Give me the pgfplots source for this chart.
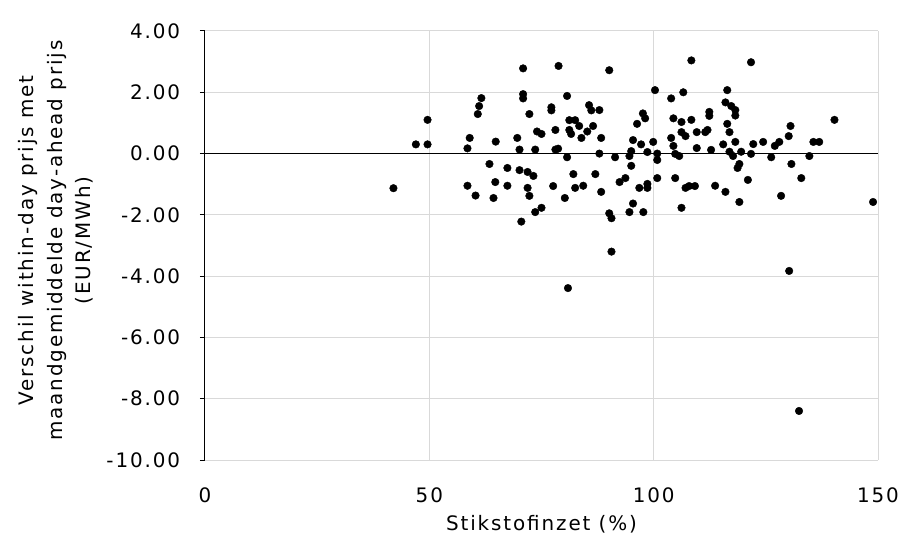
\documentclass[border=0pt]{standalone}
\usepackage{pgfplots}
\pgfplotsset{compat=1.18}
\usepackage{fontspec}
\setmainfont[LetterSpace=9.5]{DejaVu Sans}
\begin{document}
\fontsize{20}{24}\selectfont
\begin{tikzpicture}
\begin{axis}[
  name=ax,
  scale only axis,
  width=673bp, height=429bp,
  xmin=0, xmax=150, ymin=-10, ymax=4,
  xtick={0,50,100,150}, ytick={-10,-8,...,4},
  yticklabel={\pgfmathprintnumber[fixed,fixed zerofill,precision=2]{\tick}},
  /pgf/number format/assume math mode=true,
  axis lines*=left,
  x axis line style={draw=none},
  y axis line style={black, line width=1pt},
  xtick style={draw=none},
  ytick style={black, line width=1pt},
  tick align=outside,
  major tick length=5bp,
  grid=major,
  major grid style={gray!30, line width=1pt},
  extra y ticks={0},
  extra y tick labels={},
  extra y tick style={grid=major, major grid style={black, line width=1pt}, major tick length=0pt},
  ticklabel style={font=\fontsize{20}{24}\selectfont},
  yticklabel style={xshift=-13bp},
  xticklabel style={yshift=-16bp},
  xlabel={Stikstofinzet (\%)},
  ylabel={Verschil within-day prijs met\\maandgemiddelde day-ahead prijs\\(EUR/MWh)},
  ylabel style={at={([shift={(-149bp,5bp)}]axis description cs:0,0.5)}, anchor=center,
    align=center, font=\fontsize{20}{28.5}\selectfont},
  xlabel style={at={([shift={(0bp,-64bp)}]axis description cs:0.5,0)}, anchor=center,
    font=\fontsize{20}{24}\selectfont},
  clip=false,
]
\addplot[only marks, mark=*, mark size=3.8bp, black] coordinates {
(47.0,0.30) (42.0,-1.13) (49.6,0.30) (49.6,1.10) (58.5,0.17) (59.0,0.51)
(60.8,1.29) (61.1,1.55) (61.6,1.81) (64.8,0.39) (69.6,0.51) (70.1,0.13)
(70.9,2.78) (70.9,1.94) (70.9,1.80) (72.3,1.29) (73.6,0.13) (74.0,0.72)
(75.0,0.64) (77.2,1.51) (77.2,1.41) (78.1,0.77) (78.8,2.86) (78.1,0.13)
(78.7,0.16) (63.4,-0.34) (67.4,-0.47) (70.1,-0.54) (71.9,-0.60) (73.2,-0.73)
(58.5,-1.05) (60.3,-1.37) (64.7,-0.93) (67.4,-1.05) (64.3,-1.45) (71.9,-1.12)
(72.3,-1.38) (77.6,-1.06) (75.0,-1.77) (73.6,-1.91) (70.5,-2.22)
(90.1,2.72) (108.4,3.04) (100.3,2.07) (106.6,2.00) (80.7,1.88) (103.9,1.80)
(85.6,1.58) (86.1,1.41) (87.9,1.42) (97.6,1.31) (98.1,1.15) (96.3,0.97)
(104.4,1.15) (106.2,1.03) (108.4,1.10) (81.2,1.09) (82.5,1.09) (83.4,0.90)
(86.5,0.90) (81.2,0.77) (81.6,0.64) (85.2,0.72) (83.9,0.51) (88.3,0.51)
(95.4,0.44) (97.2,0.30) (99.9,0.38) (106.2,0.70) (107.1,0.57) (109.6,0.70)
(103.9,0.51) (104.4,0.25) (109.6,0.18) (87.9,0.00) (95.0,0.08) (94.6,-0.08)
(98.6,0.05) (100.8,0.00) (104.8,-0.01) (105.7,-0.08) (80.7,-0.12) (91.4,-0.12)
(100.8,-0.21) (80.2,-1.45) (82.1,-0.67) (82.5,-1.12) (84.3,-1.05) (87.0,-0.67)
(88.3,-1.25) (90.1,-1.95) (90.6,-2.11) (90.6,-3.20) (92.4,-0.93) (93.7,-0.80)
(95.0,-0.40) (96.8,-1.12) (98.6,-0.99) (98.6,-1.12) (95.4,-1.63) (94.6,-1.91)
(97.7,-1.91) (100.8,-0.80) (104.8,-0.80) (107.1,-1.12) (107.9,-1.06) (109.2,-1.06)
(106.2,-1.77) (80.9,-4.39)
(121.7,2.98) (116.4,2.07) (116.0,1.67) (117.3,1.55) (118.2,1.42) (118.2,1.24)
(112.4,1.36) (112.4,1.23) (116.4,0.97) (116.9,0.70) (111.5,0.70) (112.0,0.77)
(130.5,0.90) (140.3,1.10) (112.8,0.12) (115.5,0.30) (118.2,0.38) (122.2,0.31)
(124.4,0.38) (127.0,0.25) (128.0,0.38) (130.1,0.57) (135.6,0.38) (136.9,0.38)
(116.9,0.06) (117.7,-0.08) (119.5,0.06) (121.7,-0.01) (126.2,-0.12) (134.7,-0.08)
(130.7,-0.34) (119.1,-0.34) (118.7,-0.47) (121.0,-0.86) (132.9,-0.80) (113.7,-1.05)
(116.0,-1.25) (119.1,-1.58) (128.4,-1.38) (148.9,-1.58) (130.2,-3.83) (132.4,-8.40)
};
\end{axis}
\pgfresetboundingbox
\path[use as bounding box] ([shift={(-205bp,-81bp)}]ax.south west) rectangle ([shift={(27bp,31bp)}]ax.north east);
\end{tikzpicture}
\end{document}
